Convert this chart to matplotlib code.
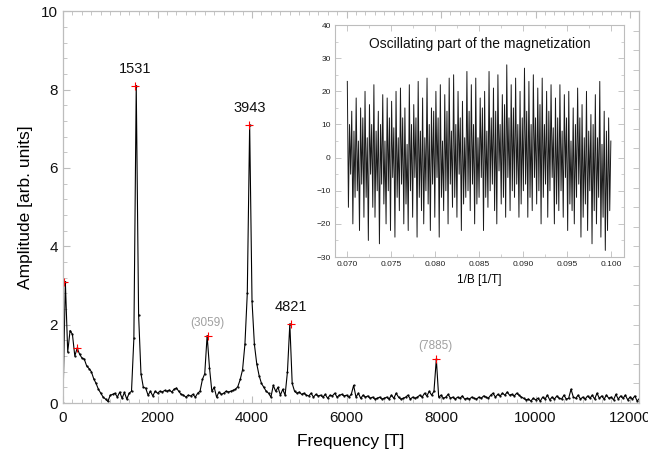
import numpy as np
import matplotlib
matplotlib.use("Agg")
import matplotlib.pyplot as plt
from matplotlib.ticker import MultipleLocator

plt.rcParams['font.family'] = ['Liberation Sans', 'DejaVu Sans']

# FFT spectrum, sampled every 50 T from 0 to 12200 T
freq_step = 50
amplitude = [
    0.0, 3.1, 1.3, 1.85, 1.75, 1.2, 1.4, 1.25, 1.15, 1.12,
    0.95, 0.88, 0.8, 0.62, 0.5, 0.35, 0.25, 0.15, 0.1, 0.04,
    0.2, 0.22, 0.25, 0.15, 0.28, 0.12, 0.27, 0.1, 0.25, 0.3,
    1.65, 8.1, 2.25, 0.75, 0.4, 0.38, 0.2, 0.3, 0.18, 0.3,
    0.25, 0.3, 0.28, 0.32, 0.3, 0.33, 0.28, 0.35, 0.38, 0.3,
    0.22, 0.2, 0.15, 0.2, 0.18, 0.22, 0.15, 0.25, 0.3, 0.6,
    0.75, 1.72, 0.9, 0.3, 0.4, 0.15, 0.28, 0.22, 0.25, 0.3,
    0.28, 0.3, 0.32, 0.35, 0.42, 0.6, 0.85, 1.5, 2.8, 7.1,
    2.6, 1.5, 1.0, 0.7, 0.5, 0.4, 0.3, 0.25, 0.15, 0.45,
    0.3, 0.4, 0.2, 0.35, 0.2, 0.8, 2.02, 0.5, 0.3, 0.25,
    0.28, 0.22, 0.25, 0.2, 0.18, 0.25, 0.15, 0.22, 0.18, 0.2,
    0.15, 0.22, 0.12, 0.2, 0.18, 0.25, 0.15, 0.2, 0.22, 0.18,
    0.2, 0.15, 0.22, 0.45, 0.15, 0.25, 0.12, 0.2, 0.15, 0.18,
    0.12, 0.15, 0.1, 0.12, 0.15, 0.1, 0.12, 0.15, 0.1, 0.2,
    0.12, 0.25, 0.15, 0.1, 0.12, 0.15, 0.2, 0.1, 0.15, 0.12,
    0.15, 0.2, 0.15, 0.25, 0.18, 0.3, 0.2, 0.3, 1.12, 0.15,
    0.2, 0.12, 0.15, 0.22, 0.12, 0.15, 0.1, 0.15, 0.12, 0.18,
    0.1, 0.12, 0.1, 0.15, 0.12, 0.1, 0.15, 0.12, 0.18, 0.15,
    0.12, 0.2, 0.25, 0.15, 0.22, 0.18, 0.25, 0.2, 0.28, 0.2,
    0.22, 0.18, 0.25, 0.2, 0.15, 0.12, 0.08, 0.1, 0.05, 0.12,
    0.08, 0.12, 0.05, 0.15, 0.1, 0.2, 0.08, 0.15, 0.1, 0.18,
    0.12, 0.1, 0.2, 0.1, 0.12, 0.35, 0.15, 0.12, 0.2, 0.1,
    0.15, 0.1, 0.18, 0.12, 0.2, 0.1, 0.25, 0.12, 0.18, 0.1,
    0.2, 0.12, 0.15, 0.08, 0.22, 0.1, 0.18, 0.12, 0.2, 0.08,
    0.15, 0.1, 0.18, 0.05, 0.12,
]
frequency = np.arange(len(amplitude)) * freq_step

# marked peaks
peak_freq = [30, 290, 1531, 3059, 3943, 4821, 7885]
peak_amp = [3.1, 1.4, 8.1, 1.72, 7.1, 2.02, 1.12]
main_labels = ["1531", "3943", "4821"]
minor_labels = ["(3059)", "(7885)"]

# oscillating magnetization vs 1/B (inset)
inv_b_start, inv_b_end = 0.070, 0.100
osc = [
    23, -15, 10, -5, 14, -20, 8, -12, 18, -10, 5, -22, 15, -8, 12, -18,
    20, -12, 6, -25, 16, -5, 10, -15, 22, -18, 8, -10, 14, -26, 10, -8,
    19, -14, 5, -20, 18, -10, 12, -22, 17, -6, 9, -24, 20, -12, 6, -16,
    21, -8, 12, -20, 15, -14, 4, -22, 22, -10, 10, -18, 16, -6, 12, -24,
    23, -12, 8, -16, 18, -20, 6, -10, 24, -14, 10, -22, 15, -8, 14, -18,
    20, -6, 12, -24, 22, -12, 5, -16, 19, -10, 14, -20, 24, -8, 8, -15,
    25, -12, 10, -18, 20, -5, 12, -22, 17, -14, 6, -12, 26, -10, 14, -16,
    22, -8, 10, -20, 24, -14, 6, -12, 18, -6, 15, -22, 20, -12, 8, -15,
    26, -10, 12, -8, 21, -16, 14, -20, 25, -4, 10, -14, 19, -12, 16, -18,
    28, -6, 12, -16, 22, -10, 15, -12, 24, -8, 10, -18, 20, -14, 12, -10,
    27, -8, 14, -18, 23, -12, 10, -16, 25, -6, 12, -14, 21, -10, 16, -20,
    24, -12, 10, -8, 20, -18, 14, -10, 22, -6, 9, -20, 18, -14, 12, -16,
    22, -10, 8, -18, 19, -6, 12, -22, 20, -14, 5, -16, 15, -20, 10, -12,
    21, -8, 12, -24, 16, -18, 6, -14, 20, -22, 8, -10, 13, -26, 10, -16,
    19, -20, 6, -12, 23, -24, 4, -18, 14, -28, 8, -22, 12, -16, 5,
]
inv_b = np.linspace(inv_b_start, inv_b_end, len(osc))

frame_col = '#bdbdbd'

fig = plt.figure(figsize=(6.48, 4.62), dpi=100)
ax = fig.add_axes([0.0972, 0.1277, 0.889, 0.848])

ax.plot(frequency, amplitude, color='black', lw=0.8, marker='.', ms=1.2)
ax.plot(peak_freq, peak_amp, ls='none', marker='+', color='red', ms=6, mew=0.8)

for f, a in zip(peak_freq, peak_amp):
    lab = str(f)
    if lab in main_labels:
        ax.annotate(lab, (f, a), xytext=(0, 7), textcoords='offset points',
                    ha='center', va='bottom', fontsize=10.5, color='#111111')
    elif "(%s)" % lab in minor_labels:
        ax.annotate("(%s)" % lab, (f, a), xytext=(0, 5), textcoords='offset points',
                    ha='center', va='bottom', fontsize=8.5, color='#a0a0a0')

ax.set_xlim(0, 12190)
ax.set_ylim(0, 10)
ax.xaxis.set_major_locator(MultipleLocator(2000))
ax.xaxis.set_minor_locator(MultipleLocator(200))
ax.yaxis.set_major_locator(MultipleLocator(2))
ax.yaxis.set_minor_locator(MultipleLocator(0.4))
ax.tick_params(which='both', direction='in', color=frame_col, top=True, right=False,
               labelsize=11, labelcolor='#111111')
ax.tick_params(which='major', length=5, width=0.8)
ax.tick_params(which='minor', length=3, width=0.6)
ax.tick_params(axis='x', pad=6)
for s in ax.spines.values():
    s.set_color(frame_col)
    s.set_linewidth(0.9)
ax.set_xlabel('Frequency [T]', fontsize=12.5, labelpad=6)
ax.set_ylabel('Amplitude [arb. units]', fontsize=12.5, labelpad=6)

# unlabeled right-hand scale
axr = ax.twinx()
axr.set_ylim(0, 10)
axr.yaxis.set_major_locator(MultipleLocator(0.5))
axr.tick_params(direction='in', color=frame_col, length=4, width=0.6, labelright=False)
for s in axr.spines.values():
    s.set_visible(False)

# inset
ins = fig.add_axes([0.517, 0.4437, 0.446, 0.502])
ins.plot(inv_b, osc, color='#1a1a1a', lw=0.7)
ins.set_xlim(0.0686, 0.1015)
ins.set_ylim(-30, 40)
ins.xaxis.set_major_locator(MultipleLocator(0.005))
ins.xaxis.set_minor_locator(MultipleLocator(0.0025))
ins.yaxis.set_major_locator(MultipleLocator(10))
ins.yaxis.set_minor_locator(MultipleLocator(5))
ins.xaxis.set_major_formatter(matplotlib.ticker.FormatStrFormatter('%.3f'))
ins.tick_params(which='both', direction='in', color=frame_col, top=True, right=True,
                labelsize=6, labelcolor='#222222', pad=3)
ins.tick_params(which='major', length=4, width=0.6)
ins.tick_params(which='minor', length=2.5, width=0.5)
for s in ins.spines.values():
    s.set_color(frame_col)
    s.set_linewidth(0.8)
ins.set_xlabel('1/B [1/T]', fontsize=8.5, labelpad=4)
ins.text(0.5, 0.92, 'Oscillating part of the magnetization', transform=ins.transAxes,
         ha='center', va='center', fontsize=10, color='#111111')

fig.savefig('out.png', dpi=100)
